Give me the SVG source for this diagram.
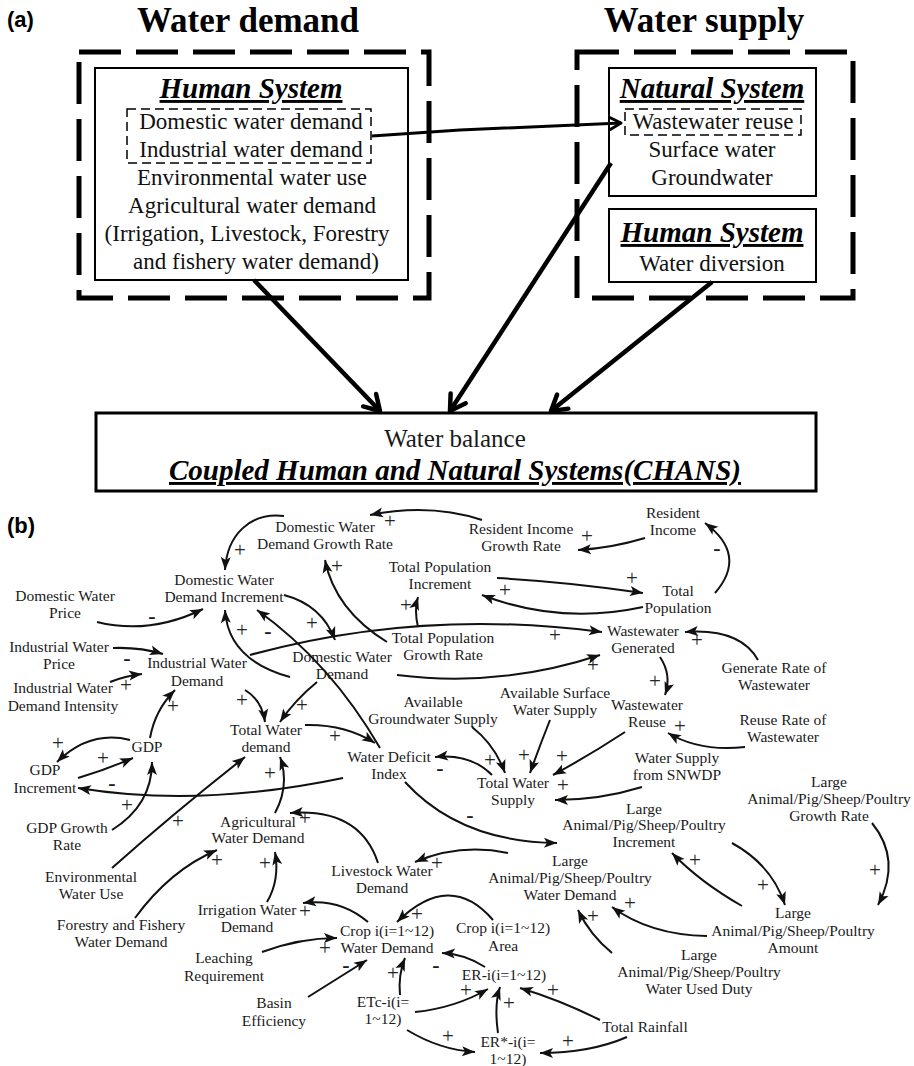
<svg xmlns="http://www.w3.org/2000/svg" width="914" height="1066" viewBox="0 0 914 1066">
<style>
text{font-family:"Liberation Serif","Times New Roman",serif;fill:#1a1a1a}
.lab{font-family:"Liberation Sans",Arial,sans-serif;font-weight:bold;font-size:22px;fill:#000}
.h{font-weight:bold;font-size:35px;text-anchor:middle;fill:#000}
.bi{font-weight:bold;font-style:italic;font-size:29px;text-anchor:middle;text-decoration:underline;fill:#000}
.a{font-size:23px;text-anchor:middle;fill:#111}
.t{font-size:15.5px;text-anchor:middle}
.p{font-size:21px;text-anchor:middle;fill:#222}
.m{font-size:22px;font-weight:bold;text-anchor:middle}
.box{fill:none;stroke:#000;stroke-width:2}
.dbig{fill:none;stroke:#000;stroke-width:5;stroke-dasharray:42 15}
.dsm{fill:none;stroke:#000;stroke-width:1.5;stroke-dasharray:9 5}
.ba{fill:none;stroke:#000;stroke-width:4.5;marker-end:url(#av)}
.c{fill:none;stroke:#111;stroke-width:2;marker-end:url(#ah)}
</style>
<defs>
<marker id="av" markerUnits="userSpaceOnUse" markerWidth="24" markerHeight="24" refX="20" refY="12" orient="auto" overflow="visible">
<path d="M5,3 L20,12 L5,21" fill="none" stroke="#000" stroke-width="4.5" stroke-linecap="round" stroke-linejoin="round"/>
</marker>
<marker id="av2" markerUnits="userSpaceOnUse" markerWidth="20" markerHeight="20" refX="16" refY="10" orient="auto" overflow="visible">
<path d="M5,4 L16,10 L5,16" fill="none" stroke="#000" stroke-width="3" stroke-linecap="round" stroke-linejoin="round"/>
</marker>
<marker id="ah" markerUnits="userSpaceOnUse" markerWidth="14" markerHeight="12" refX="13" refY="5" orient="auto" overflow="visible">
<path d="M0,0 L13,5 L0,10 L3,5 z" fill="#111"/>
</marker>
</defs>

<!-- Part (a) -->
<text class="lab" x="7" y="27">(a)</text>
<text class="h" x="248" y="32">Water demand</text>
<text class="h" x="704" y="32">Water supply</text>

<g id="demand-frame">
<rect class="dbig" x="79" y="52" width="350" height="246"/>
</g>
<g id="supply-frame">
<rect class="dbig" x="577" y="52" width="276" height="246"/>
</g>

<g id="human-demand">
<rect class="box" x="95" y="68" width="313" height="212"/>
<text class="bi" x="251" y="98">Human System</text>
<rect class="dsm" x="127" y="109" width="244" height="54"/>
<text class="a" x="251" y="129">Domestic water demand</text>
<text class="a" x="251" y="157">Industrial water demand</text>
<text class="a" x="252" y="185">Environmental water use</text>
<text class="a" x="252" y="213">Agricultural water demand</text>
<text class="a" x="247" y="241">(Irrigation, Livestock, Forestry</text>
<text class="a" x="256" y="269">and fishery water demand)</text>
</g>

<g id="natural-supply">
<rect class="box" x="609" y="68" width="207" height="128"/>
<text class="bi" x="712" y="98">Natural System</text>
<rect class="dsm" x="625" y="109" width="176" height="26"/>
<text class="a" x="713" y="129">Wastewater reuse</text>
<text class="a" x="712" y="157">Surface water</text>
<text class="a" x="712" y="185">Groundwater</text>
</g>

<g id="human-supply">
<rect class="box" x="609" y="209" width="207" height="73"/>
<text class="bi" x="712" y="242">Human System</text>
<text class="a" x="712" y="271">Water diversion</text>
</g>

<g id="water-balance">
<rect fill="none" stroke="#000" stroke-width="3" x="96" y="413" width="720" height="78"/>
<text x="455" y="447" font-size="25" text-anchor="middle" fill="#111">Water balance</text>
<text class="bi" x="455" y="480" font-size="29.5">Coupled Human and Natural Systems(CHANS)</text>
</g>

<g id="connectors-a">
<path d="M372,136 L460,130 L621,123" fill="none" stroke="#000" stroke-width="3" marker-end="url(#av2)"/>
<path class="ba" d="M254,280 L380,411"/>
<path class="ba" d="M611,163 L450,411"/>
<path class="ba" d="M712,282 L551,411"/>
</g>

<!-- Part (b) -->
<text class="lab" x="7" y="533">(b)</text>

<g id="n-dwdgr"><text class="t"><tspan x="325" y="532">Domestic Water</tspan><tspan x="325" y="549">Demand Growth Rate</tspan></text></g>
<g id="n-rigr"><text class="t"><tspan x="521" y="534">Resident Income</tspan><tspan x="521" y="551">Growth Rate</tspan></text></g>
<g id="n-ri"><text class="t"><tspan x="673" y="518">Resident</tspan><tspan x="673" y="535">Income</tspan></text></g>
<g id="n-tpi"><text class="t"><tspan x="440" y="572">Total Population</tspan><tspan x="440" y="589">Increment</tspan></text></g>
<g id="n-tp"><text class="t"><tspan x="678" y="596">Total</tspan><tspan x="678" y="613">Population</tspan></text></g>
<g id="n-dwdi"><text class="t"><tspan x="224" y="585">Domestic Water</tspan><tspan x="224" y="602">Demand Increment</tspan></text></g>
<g id="n-dwp"><text class="t"><tspan x="65" y="601">Domestic Water</tspan><tspan x="65" y="618">Price</tspan></text></g>
<g id="n-tpgr"><text class="t"><tspan x="443" y="643">Total Population</tspan><tspan x="443" y="660">Growth Rate</tspan></text></g>
<g id="n-dwd"><text class="t"><tspan x="342" y="662">Domestic Water</tspan><tspan x="342" y="679">Demand</tspan></text></g>
<g id="n-wg"><text class="t"><tspan x="643" y="636">Wastewater</tspan><tspan x="643" y="653">Generated</tspan></text></g>
<g id="n-iwp"><text class="t"><tspan x="59" y="652">Industrial Water</tspan><tspan x="59" y="669">Price</tspan></text></g>
<g id="n-iwd"><text class="t"><tspan x="197" y="668">Industrial Water</tspan><tspan x="197" y="686">Demand</tspan></text></g>
<g id="n-iwdi"><text class="t"><tspan x="63" y="693">Industrial Water</tspan><tspan x="63" y="711">Demand Intensity</tspan></text></g>
<g id="n-grw"><text class="t"><tspan x="774" y="673">Generate Rate of</tspan><tspan x="774" y="690">Wastewater</tspan></text></g>
<g id="n-ags"><text class="t"><tspan x="433" y="707">Available</tspan><tspan x="433" y="724">Groundwater Supply</tspan></text></g>
<g id="n-asws"><text class="t"><tspan x="555" y="698">Available Surface</tspan><tspan x="555" y="715">Water Supply</tspan></text></g>
<g id="n-wr"><text class="t"><tspan x="647" y="710">Wastewater</tspan><tspan x="647" y="727">Reuse</tspan></text></g>
<g id="n-rrw"><text class="t"><tspan x="783" y="725">Reuse Rate of</tspan><tspan x="783" y="742">Wastewater</tspan></text></g>
<g id="n-twd"><text class="t"><tspan x="266" y="735">Total Water</tspan><tspan x="266" y="752">demand</tspan></text></g>
<g id="n-gdp"><text class="t" x="147" y="752">GDP</text></g>
<g id="n-wdi"><text class="t"><tspan x="389" y="762">Water Deficit</tspan><tspan x="389" y="779">Index</tspan></text></g>
<g id="n-wss"><text class="t"><tspan x="677" y="763">Water Supply</tspan><tspan x="677" y="780">from SNWDP</tspan></text></g>
<g id="n-gdpi"><text class="t"><tspan x="45" y="775">GDP</tspan><tspan x="45" y="793">Increment</tspan></text></g>
<g id="n-tws"><text class="t"><tspan x="513" y="788">Total Water</tspan><tspan x="513" y="805">Supply</tspan></text></g>
<g id="n-lagr"><text class="t"><tspan x="829" y="787">Large</tspan><tspan x="829" y="804">Animal/Pig/Sheep/Poultry</tspan><tspan x="829" y="821">Growth Rate</tspan></text></g>
<g id="n-lai"><text class="t"><tspan x="644" y="814">Large</tspan><tspan x="644" y="830">Animal/Pig/Sheep/Poultry</tspan><tspan x="644" y="847">Increment</tspan></text></g>
<g id="n-awd"><text class="t"><tspan x="258" y="827">Agricultural</tspan><tspan x="258" y="843">Water Demand</tspan></text></g>
<g id="n-gdpgr"><text class="t"><tspan x="67" y="833">GDP Growth</tspan><tspan x="67" y="850">Rate</tspan></text></g>
<g id="n-lwd"><text class="t"><tspan x="382" y="876">Livestock Water</tspan><tspan x="382" y="893">Demand</tspan></text></g>
<g id="n-lawd"><text class="t"><tspan x="570" y="866">Large</tspan><tspan x="570" y="883">Animal/Pig/Sheep/Poultry</tspan><tspan x="570" y="900">Water Demand</tspan></text></g>
<g id="n-ewu"><text class="t"><tspan x="91" y="882">Environmental</tspan><tspan x="91" y="899">Water Use</tspan></text></g>
<g id="n-irwd"><text class="t"><tspan x="247" y="915">Irrigation Water</tspan><tspan x="247" y="932">Demand</tspan></text></g>
<g id="n-laa"><text class="t"><tspan x="793" y="918">Large</tspan><tspan x="793" y="936">Animal/Pig/Sheep/Poultry</tspan><tspan x="793" y="953">Amount</tspan></text></g>
<g id="n-ffwd"><text class="t"><tspan x="121" y="930">Forestry and Fishery</tspan><tspan x="121" y="947">Water Demand</tspan></text></g>
<g id="n-cwd"><text class="t"><tspan x="387" y="936">Crop i(i=1~12)</tspan><tspan x="387" y="953">Water Demand</tspan></text></g>
<g id="n-ca"><text class="t"><tspan x="503" y="933">Crop i(i=1~12)</tspan><tspan x="503" y="951">Area</tspan></text></g>
<g id="n-lawud"><text class="t"><tspan x="699" y="960">Large</tspan><tspan x="699" y="977">Animal/Pig/Sheep/Poultry</tspan><tspan x="699" y="994">Water Used Duty</tspan></text></g>
<g id="n-lr"><text class="t"><tspan x="224" y="963">Leaching</tspan><tspan x="224" y="981">Requirement</tspan></text></g>
<g id="n-er"><text class="t" x="504" y="980">ER-i(i=1~12)</text></g>
<g id="n-be"><text class="t"><tspan x="274" y="1008">Basin</tspan><tspan x="274" y="1026">Efficiency</tspan></text></g>
<g id="n-etc"><text class="t"><tspan x="383" y="1007">ETc-i(i=</tspan><tspan x="383" y="1024">1~12)</tspan></text></g>
<g id="n-tr"><text class="t" x="645" y="1032">Total Rainfall</text></g>
<g id="n-ers"><text class="t"><tspan x="508" y="1047">ER*-i(i=</tspan><tspan x="508" y="1064">1~12)</tspan></text></g>

<g id="connectors-b">
<path class="c" d="M284,516 C250,512 227,535 225,570"/>
<path class="c" d="M482,520 Q430,503 370,515"/>
<path class="c" d="M645,538 Q612,548 578,550"/>
<path class="c" d="M715,593 Q748,555 705,523"/>
<path class="c" d="M497,578 Q570,582 643,593"/>
<path class="c" d="M643,607 Q560,625 482,595"/>
<path class="c" d="M418,627 Q414,610 418,597"/>
<path class="c" d="M387,642 Q335,610 325,560"/>
<path class="c" d="M97,622 Q150,635 203,609"/>
<path class="c" d="M290,677 Q228,660 225,610"/>
<path class="c" d="M380,748 Q330,662 257,610"/>
<path class="c" d="M284,595 Q322,605 335,640"/>
<path class="c" d="M113,648 Q140,647 163,654"/>
<path class="c" d="M110,682 Q125,676 142,674"/>
<path class="c" d="M150,738 Q155,710 175,690"/>
<path class="c" d="M250,655 Q420,608 602,632"/>
<path class="c" d="M397,675 Q500,688 600,655"/>
<path class="c" d="M758,660 Q740,628 685,632"/>
<path class="c" d="M660,657 Q672,675 665,695"/>
<path class="c" d="M745,747 Q700,752 668,733"/>
<path class="c" d="M625,732 Q590,755 553,775"/>
<path class="c" d="M642,787 Q600,800 555,800"/>
<path class="c" d="M472,727 Q495,745 505,773"/>
<path class="c" d="M550,720 Q540,745 530,773"/>
<path class="c" d="M492,775 Q470,753 435,757"/>
<path class="c" d="M305,725 Q345,724 375,743"/>
<path class="c" d="M343,778 Q200,808 78,788"/>
<path class="c" d="M405,782 Q460,842 557,843"/>
<path class="c" d="M245,690 Q262,700 265,722"/>
<path class="c" d="M317,682 Q295,700 280,722"/>
<path class="c" d="M112,868 Q175,812 245,757"/>
<path class="c" d="M275,813 Q290,785 280,757"/>
<path class="c" d="M130,740 Q90,730 57,762"/>
<path class="c" d="M78,778 Q105,770 133,758"/>
<path class="c" d="M112,830 Q152,805 152,762"/>
<path class="c" d="M378,863 Q360,808 290,813"/>
<path class="c" d="M135,918 Q170,870 217,850"/>
<path class="c" d="M267,902 Q280,880 275,852"/>
<path class="c" d="M368,922 Q340,898 303,903"/>
<path class="c" d="M262,952 Q300,938 337,938"/>
<path class="c" d="M308,997 L367,960"/>
<path class="c" d="M508,853 Q460,843 415,862"/>
<path class="c" d="M493,920 Q450,870 397,922"/>
<path class="c" d="M485,967 Q465,954 442,953"/>
<path class="c" d="M400,995 Q398,975 405,958"/>
<path class="c" d="M415,1012 Q455,1008 488,989"/>
<path class="c" d="M407,1030 Q440,1050 475,1052"/>
<path class="c" d="M498,1033 Q494,1005 500,987"/>
<path class="c" d="M600,1020 Q560,1000 520,988"/>
<path class="c" d="M627,1037 Q590,1053 540,1053"/>
<path class="c" d="M612,953 Q590,935 578,910"/>
<path class="c" d="M707,936 Q650,935 612,907"/>
<path class="c" d="M742,906 Q700,882 672,853"/>
<path class="c" d="M732,843 Q772,865 785,905"/>
<path class="c" d="M872,823 Q902,860 878,905"/>
</g>

<g id="polarity" opacity="0.99">
<text class="p" x="240" y="557">+</text>
<text class="p" x="390" y="528">+</text>
<text class="p" x="587" y="543">+</text>
<text class="m" x="717" y="555">-</text>
<text class="p" x="632" y="585">+</text>
<text class="p" x="505" y="597">+</text>
<text class="p" x="406" y="612">+</text>
<text class="p" x="337" y="573">+</text>
<text class="m" x="152" y="623">-</text>
<text class="p" x="242" y="637">+</text>
<text class="m" x="268" y="638">-</text>
<text class="p" x="312" y="630">+</text>
<text class="m" x="127" y="665">-</text>
<text class="p" x="126" y="692">+</text>
<text class="p" x="173" y="713">+</text>
<text class="p" x="555" y="642">+</text>
<text class="p" x="593" y="672">+</text>
<text class="p" x="697" y="647">+</text>
<text class="p" x="655" y="688">+</text>
<text class="p" x="680" y="733">+</text>
<text class="p" x="562" y="763">+</text>
<text class="p" x="563" y="792">+</text>
<text class="p" x="490" y="767">+</text>
<text class="p" x="524" y="762">+</text>
<text class="m" x="440" y="775">-</text>
<text class="p" x="335" y="743">+</text>
<text class="m" x="112" y="790">-</text>
<text class="m" x="470" y="822">-</text>
<text class="p" x="242" y="707">+</text>
<text class="p" x="302" y="712">+</text>
<text class="p" x="178" y="828">+</text>
<text class="p" x="270" y="780">+</text>
<text class="p" x="58" y="750">+</text>
<text class="p" x="103" y="765">+</text>
<text class="p" x="127" y="812">+</text>
<text class="p" x="305" y="825">+</text>
<text class="p" x="217" y="867">+</text>
<text class="p" x="265" y="870">+</text>
<text class="p" x="305" y="918">+</text>
<text class="p" x="325" y="955">+</text>
<text class="m" x="346" y="972">-</text>
<text class="p" x="437" y="870">+</text>
<text class="p" x="417" y="921">+</text>
<text class="m" x="436" y="972">-</text>
<text class="p" x="393" y="980">+</text>
<text class="p" x="466" y="997">+</text>
<text class="p" x="448" y="1043">+</text>
<text class="p" x="509" y="1010">+</text>
<text class="p" x="553" y="997">+</text>
<text class="p" x="568" y="1048">+</text>
<text class="p" x="593" y="923">+</text>
<text class="p" x="630" y="910">+</text>
<text class="p" x="695" y="867">+</text>
<text class="p" x="763" y="892">+</text>
<text class="p" x="875" y="877">+</text>
</g>
</svg>
